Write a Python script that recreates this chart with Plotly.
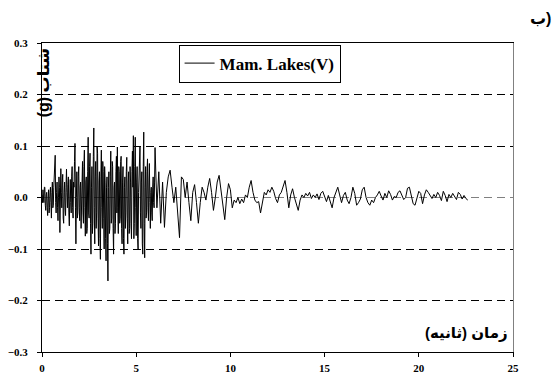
import numpy as np
import plotly.graph_objects as go

# ---- data ----
series_name = "Mam. Lakes(V)"
dt_strong = 0.025  # sampling used for 0 - 6 s
dt_tail = 0.1      # sampling used for 6 - 22.6 s

acc_strong = [
    0.005, -0.01, 0.015, 0.0, -0.01, 0.02, 0.02, -0.015, -0.025, 0.005,
    0.01, -0.02, -0.035, 0.0, 0.015, -0.03, -0.02, 0.01, 0.02, -0.01,
    -0.04, 0.01, 0.03, -0.02, -0.015, 0.02, 0.045, 0.06, 0.082, -0.01,
    -0.03, 0.01, 0.03, -0.02, -0.045, 0.0, 0.04, 0.02, -0.068, -0.01,
    0.056, 0.01, -0.02, 0.03, 0.045, -0.04, -0.05, 0.01, 0.03, -0.02,
    -0.035, 0.02, 0.055, 0.01, -0.02, 0.025, 0.04, -0.03, -0.055, 0.0,
    0.035, -0.01, -0.03, 0.04, 0.06, -0.02, -0.04, 0.03, 0.02, 0.07,
    0.105, -0.02, -0.09, 0.0, 0.05, -0.04, -0.03, 0.04, 0.06, -0.02,
    -0.045, 0.02, 0.03, -0.06, -0.02, 0.05, 0.07, -0.03, -0.05, 0.06,
    0.092, -0.02, -0.075, 0.03, 0.04, -0.07, -0.06, 0.05, 0.117, -0.03,
    -0.04, 0.06, 0.086, -0.05, -0.11, 0.02, 0.06, -0.07, -0.05, 0.08,
    0.135, -0.02, -0.09, 0.04, 0.07, -0.06, -0.03, 0.10, 0.086, -0.04,
    -0.094, 0.03, 0.05, -0.08, -0.12, 0.04, 0.092, -0.02, -0.06, 0.07,
    0.05, -0.04, -0.10, 0.06, 0.03, -0.08, -0.123, 0.02, 0.04, -0.09,
    -0.162, 0.02, 0.05, -0.07, -0.06, 0.04, 0.09, -0.05, -0.04, 0.07,
    0.06, -0.06, -0.11, 0.02, 0.03, -0.07, -0.05, 0.05, 0.08, -0.03,
    0.098, -0.02, -0.07, 0.06, 0.05, -0.05, -0.04, 0.07, 0.08, -0.06,
    -0.09, 0.03, 0.06, -0.08, -0.11, 0.02, 0.04, -0.06, -0.03, 0.05,
    0.078, -0.04, -0.09, 0.03, 0.05, -0.07, -0.06, 0.06, 0.03, -0.05,
    -0.08, 0.05, 0.09, 0.02, 0.12, -0.08, -0.05, 0.06, 0.117, -0.02,
    -0.074, 0.03, 0.06, -0.08, -0.10, 0.01, 0.04, 0.06, 0.10, -0.03,
    -0.06, 0.03, 0.05, -0.09, -0.11, 0.06, 0.127, -0.05, -0.117, 0.02,
    0.06, -0.04, -0.03, 0.05, 0.075, -0.02, -0.045, 0.03, 0.066, -0.01,
    -0.06, 0.01, 0.02, -0.03, -0.045, 0.02, 0.04, -0.01, -0.02, 0.03,
]

acc_tail = [
    0.097, -0.02, 0.05, -0.05, 0.03, -0.058, 0.01, 0.04, 0.053, 0.02,
    -0.01, 0.02, -0.03, -0.078, 0.04, 0.035, 0.0, 0.03, -0.01, -0.045,
    0.01, 0.025, -0.01, -0.05, -0.01, 0.02, 0.01, -0.005, 0.02, 0.037,
    0.01, -0.025, 0.0, 0.03, 0.043, 0.01, -0.02, -0.043, 0.0, 0.027,
    0.015, -0.02, -0.005, -0.01, 0.0, -0.012, -0.003, -0.01, 0.005, 0.0,
    0.02, 0.033, 0.01, -0.005, -0.01, -0.008, -0.03, -0.01, 0.01, 0.005,
    0.015, 0.01, 0.02, 0.012, -0.002, -0.01, 0.005, 0.01, 0.02, 0.033,
    0.01, -0.02, 0.005, 0.017, 0.0, -0.015, -0.025, -0.005, 0.005, 0.0,
    0.008, 0.003, 0.01, -0.002, 0.005, 0.0, 0.007, -0.004, 0.008, 0.012,
    0.002, -0.008, 0.004, -0.01, -0.02, 0.0, 0.012, 0.02, 0.005, -0.01,
    0.004, 0.01, -0.005, -0.012, 0.0, 0.02, 0.008, -0.015, -0.01, -0.003,
    0.015, 0.02, 0.0, -0.01, -0.015, -0.005, -0.01, 0.0, 0.005, 0.012,
    0.003, -0.005, 0.008, 0.0, 0.013, 0.006, -0.005, 0.002, 0.0, 0.01,
    0.013, 0.004, -0.004, 0.0, 0.018, 0.02, 0.005, -0.012, -0.015, 0.0,
    0.012, 0.008, -0.012, 0.005, 0.015, 0.01, 0.003, -0.002, 0.006, 0.0,
    0.01, 0.004, -0.006, 0.012, 0.004, -0.008, 0.006, 0.0, 0.008, 0.002,
    -0.004, 0.01, 0.006, -0.003, 0.004, -0.002, -0.005,
]

x_ticks = [0, 5, 10, 15, 20, 25]
y_ticks = [-0.3, -0.2, -0.1, 0.0, 0.1, 0.2, 0.3]
y_grid = [-0.2, -0.1, 0.1, 0.2]

# left-to-right override keeps the visual order "ب" then ")"
title_tag = "\u202dب)\u202c"
x_title = "زمان (ثانیه)"
y_title = "(g) شتاب"

# time vectors for the two sampling segments
t_strong = np.arange(len(acc_strong)) * dt_strong
t_tail = 6.0 + np.arange(len(acc_tail)) * dt_tail
time = np.concatenate([t_strong, t_tail])
acc = acc_strong + acc_tail

FONT = "Liberation Serif, Times New Roman, DejaVu Serif, serif"
AFONT = "Liberation Sans, DejaVu Sans, Noto Sans, sans-serif"

fig = go.Figure()
fig.add_trace(go.Scatter(
    x=time, y=acc, mode="lines", name=series_name,
    line=dict(color="black", width=1), showlegend=True,
))

# the html page has an 8px body margin, so the figure is 8px smaller
fig.update_layout(
    width=552, height=375,
    margin=dict(l=34, r=47, t=35, b=31, autoexpand=False),
    paper_bgcolor="white", plot_bgcolor="white",
    showlegend=True,
    legend=dict(
        x=0.29, y=0.995, xanchor="left", yanchor="top",
        bordercolor="black", borderwidth=1, bgcolor="white",
        font=dict(family=FONT, size=17, color="black", weight="bold"),
        itemwidth=30,
    ),
    xaxis=dict(
        range=[0, 25], tickvals=x_ticks, ticks="outside", ticklen=4,
        tickcolor="black", showline=True, linecolor="black", linewidth=1,
        mirror=True, showgrid=False, zeroline=False, automargin=False,
        ticklabelstandoff=2,
        tickfont=dict(family=FONT, size=11, color="black", weight="bold"),
    ),
    yaxis=dict(
        range=[-0.3, 0.3], tickvals=y_ticks, tickformat=".1f",
        ticks="outside", ticklen=4, tickcolor="black",
        showline=True, linecolor="black", linewidth=1,
        showgrid=False, zeroline=False, automargin=False,
        ticklabelstandoff=7,
        tickfont=dict(family=FONT, size=11, color="black", weight="bold"),
    ),
    yaxis2=dict(
        overlaying="y", side="right", range=[-0.3, 0.3], tickvals=y_grid,
        showticklabels=False, ticks="", showline=True, linecolor="#808080",
        linewidth=1, showgrid=True, gridcolor="black", gridwidth=1,
        griddash="8px,5px", zeroline=False, automargin=False,
    ),
    yaxis3=dict(
        overlaying="y", side="right", range=[-0.3, 0.3], tickvals=[0],
        showticklabels=False, ticks="", showline=False,
        showgrid=True, gridcolor="#808080", gridwidth=1,
        griddash="8px,5px", zeroline=False, automargin=False,
    ),
)

# invisible helpers so the overlay axes are drawn
fig.add_trace(go.Scatter(x=[None], y=[None], yaxis="y2", showlegend=False, hoverinfo="skip"))
fig.add_trace(go.Scatter(x=[None], y=[None], yaxis="y3", showlegend=False, hoverinfo="skip"))

fig.add_annotation(
    text=title_tag, xref="paper", yref="paper", x=1.085, y=1.08,
    xanchor="right", yanchor="middle", showarrow=False,
    font=dict(family=AFONT, size=16, color="black", weight="bold"),
)
fig.add_annotation(
    text=x_title, xref="paper", yref="paper", x=0.994, y=0.06,
    xanchor="right", yanchor="middle", showarrow=False,
    font=dict(family=AFONT, size=15, color="black", weight="bold"),
)
fig.add_annotation(
    text=y_title, xref="paper", yref="paper", x=-0.02, y=0.87,
    xanchor="left", yanchor="middle", showarrow=False, textangle=-90,
    font=dict(family=AFONT, size=16, color="black", weight="bold"),
)

fig.write_html("out.html")
